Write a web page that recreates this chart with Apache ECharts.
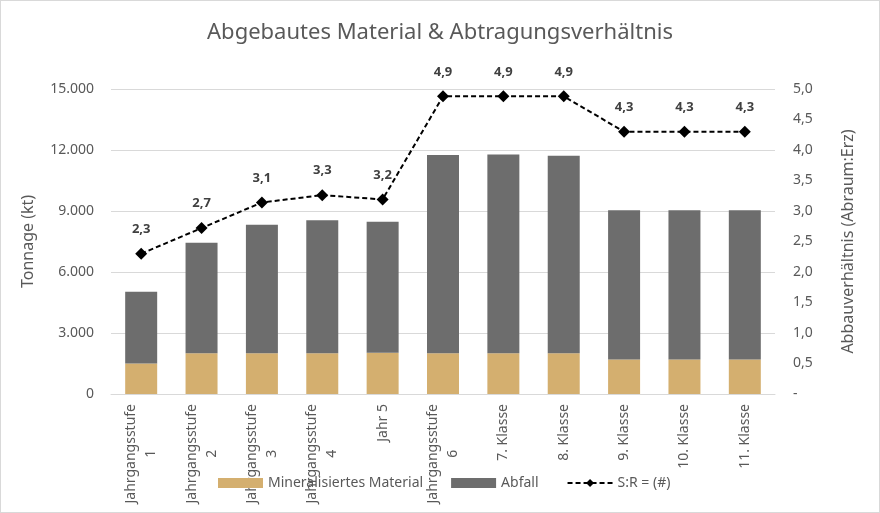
<!DOCTYPE html>
<html>
<head>
<meta charset="utf-8">
<script src="https://cdn.jsdelivr.net/npm/echarts@6/dist/echarts.min.js"></script>
<style>
  html, body { margin: 0; padding: 0; background: #fff; }
  #chart { width: 880px; height: 513px; box-sizing: border-box; border: 1px solid #d9d9d9; }
</style>
</head>
<body>
<div id="chart"></div>
<script>
// Werte
const categories = [
  "Jahrgangsstufe\n1", "Jahrgangsstufe\n2", "Jahrgangsstufe\n3", "Jahrgangsstufe\n4",
  "Jahr 5", "Jahrgangsstufe\n6", "7. Klasse", "8. Klasse", "9. Klasse", "10. Klasse", "11. Klasse"
];
const mineralisiert = [1500, 2000, 2000, 2000, 2030, 2000, 2000, 2000, 1700, 1700, 1700];
const abfall = [3530, 5440, 6320, 6550, 6440, 9760, 9780, 9720, 7340, 7340, 7340];
const verhaeltnis = [2.3, 2.72, 3.14, 3.26, 3.19, 4.88, 4.88, 4.88, 4.3, 4.3, 4.3];

const fontFamily = "Noto Sans";
const textColor = "#595959";

const fmtThousands = (v) => String(v).replace(/\B(?=(\d{3})+(?!\d))/g, ".");
const fmtRatio = (v) => (v === 0 ? "-" : v.toFixed(1).replace(".", ","));
// jede Zeile mittig im Block ausrichten
const fmtCategory = (v) => v.split("\n").map((s) => "{c|" + s + "}").join("\n");

const chart = echarts.init(document.getElementById("chart"));

chart.setOption({
  textStyle: { fontFamily },
  animation: false,
  title: {
    text: "Abgebautes Material & Abtragungsverhältnis",
    left: "center",
    top: 16,
    textStyle: { fontFamily, fontSize: 22, fontWeight: "normal", color: textColor }
  },
  legend: {
    bottom: 17,
    left: 212,
    itemGap: 28,
    itemWidth: 45,
    itemHeight: 10,
    textStyle: { fontFamily, fontSize: 14, color: textColor },
    data: [
      { name: "Mineralisiertes Material", icon: "rect" },
      { name: "Abfall", icon: "rect" },
      { name: "S:R = (#)" }
    ]
  },
  grid: { left: 110, right: 104, top: 88, bottom: 118 },
  xAxis: {
    type: "category",
    data: categories,
    axisTick: { show: false },
    axisLine: { lineStyle: { color: "#d9d9d9" } },
    axisLabel: {
      rotate: 90,
      margin: 10,
      interval: 0,
      formatter: fmtCategory,
      rich: {
        c: { align: "center", fontSize: 14, lineHeight: 20, color: textColor, fontFamily }
      }
    }
  },
  yAxis: [
    {
      type: "value",
      min: 0,
      max: 15000,
      interval: 3000,
      name: "Tonnage (kt)",
      nameLocation: "middle",
      nameGap: 75,
      nameTextStyle: { fontFamily, fontSize: 16, color: textColor },
      axisLabel: { formatter: fmtThousands, fontSize: 14, color: textColor, margin: 17 },
      splitLine: { lineStyle: { color: "#d9d9d9" } }
    },
    {
      type: "value",
      min: 0,
      max: 5,
      interval: 0.5,
      name: "Abbauverhältnis (Abraum:Erz)",
      nameLocation: "middle",
      nameGap: 65,
      nameTextStyle: { fontFamily, fontSize: 16, color: textColor },
      axisLabel: { formatter: fmtRatio, fontSize: 14, color: textColor, margin: 18 },
      splitLine: { show: false }
    }
  ],
  series: [
    {
      name: "Mineralisiertes Material",
      type: "bar",
      stack: "tonnage",
      barWidth: "53%",
      itemStyle: { color: "#d4af6f" },
      data: mineralisiert
    },
    {
      name: "Abfall",
      type: "bar",
      stack: "tonnage",
      barWidth: "53%",
      itemStyle: { color: "#6d6d6d" },
      data: abfall
    },
    {
      name: "S:R = (#)",
      type: "line",
      yAxisIndex: 1,
      symbol: "diamond",
      symbolSize: 12,
      z: 5,
      lineStyle: { color: "#000", width: 2, type: [5, 3] },
      itemStyle: { color: "#000" },
      label: {
        show: true,
        position: "top",
        distance: 12,
        fontFamily,
        fontSize: 13,
        fontWeight: "bold",
        color: "#404040",
        formatter: (p) => p.value.toFixed(1).replace(".", ",")
      },
      data: verhaeltnis
    }
  ]
});
</script>
</body>
</html>
